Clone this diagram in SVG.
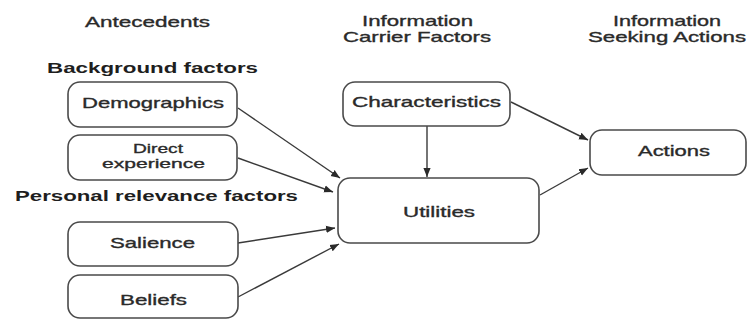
<svg xmlns="http://www.w3.org/2000/svg" width="747" height="320" viewBox="0 0 747 320">
<defs>
<style>
.t{font-family:"Liberation Sans",Arial,sans-serif;font-size:15px;fill:#2a2a2a;stroke:#2a2a2a;stroke-width:0.35;}
.s{font-size:13.5px;}
.b{font-family:"Liberation Sans",Arial,sans-serif;font-size:15.5px;font-weight:bold;fill:#1e1e1e;}
.box{fill:#fff;stroke:#4a4a4a;stroke-width:1.6;}
.c{stroke:#3a3a3a;stroke-width:1.4;fill:none;marker-end:url(#ah);}
</style>
<marker id="ah" viewBox="0 0 10 10" refX="10" refY="5" markerWidth="9" markerHeight="9" markerUnits="userSpaceOnUse" orient="auto">
<path d="M0,1 L10,5 L0,9 Z" fill="#2a2a2a"/>
</marker>
</defs>
<rect width="747" height="320" fill="#fff"/>
<g id="headers">
<text class="t" x="85" y="27" textLength="125" lengthAdjust="spacingAndGlyphs">Antecedents</text>
<text class="t"><tspan x="362" y="26" textLength="111" lengthAdjust="spacingAndGlyphs">Information</tspan><tspan x="343" y="42" textLength="148" lengthAdjust="spacingAndGlyphs">Carrier Factors</tspan></text>
<text class="t"><tspan x="613" y="26" textLength="108" lengthAdjust="spacingAndGlyphs">Information</tspan><tspan x="588" y="42" textLength="158" lengthAdjust="spacingAndGlyphs">Seeking Actions</tspan></text>
<text class="b" x="47" y="73" textLength="211" lengthAdjust="spacingAndGlyphs">Background factors</text>
<text class="b" x="15" y="201" textLength="283" lengthAdjust="spacingAndGlyphs">Personal relevance factors</text>
</g>
<g id="connectors">
<line class="c" x1="238" y1="108" x2="340" y2="178"/>
<line class="c" x1="238" y1="158" x2="333" y2="192"/>
<line class="c" x1="238" y1="243" x2="335" y2="228"/>
<line class="c" x1="238" y1="297" x2="339" y2="244"/>
<line class="c" x1="427" y1="126" x2="427" y2="177"/>
<line class="c" x1="511" y1="102" x2="588" y2="140"/>
<line class="c" x1="540" y1="195" x2="588" y2="168"/>
</g>
<g id="demographics">
<rect class="box" x="68" y="82" width="169" height="45" rx="12"/>
<text class="t" x="82" y="108" textLength="142" lengthAdjust="spacingAndGlyphs">Demographics</text>
</g>
<g id="direct-experience">
<rect class="box" x="68" y="135" width="169" height="45" rx="12"/>
<text class="t s"><tspan x="133" y="152.5" textLength="50" lengthAdjust="spacingAndGlyphs">Direct</tspan><tspan x="102" y="168" textLength="103" lengthAdjust="spacingAndGlyphs">experience</tspan></text>
</g>
<g id="salience">
<rect class="box" x="68" y="222" width="170" height="44" rx="12"/>
<text class="t" x="110" y="248" textLength="85" lengthAdjust="spacingAndGlyphs">Salience</text>
</g>
<g id="beliefs">
<rect class="box" x="68" y="275" width="170" height="43" rx="12"/>
<text class="t" x="120" y="305" textLength="67" lengthAdjust="spacingAndGlyphs">Beliefs</text>
</g>
<g id="characteristics">
<rect class="box" x="343" y="82" width="167" height="44" rx="12"/>
<text class="t" x="352" y="107" textLength="149" lengthAdjust="spacingAndGlyphs">Characteristics</text>
</g>
<g id="utilities">
<rect class="box" x="338" y="178" width="201" height="65" rx="12"/>
<text class="t" x="403" y="217" textLength="72" lengthAdjust="spacingAndGlyphs">Utilities</text>
</g>
<g id="actions">
<rect class="box" x="590" y="130" width="156" height="45" rx="12"/>
<text class="t" x="638" y="156" textLength="72" lengthAdjust="spacingAndGlyphs">Actions</text>
</g>
</svg>
